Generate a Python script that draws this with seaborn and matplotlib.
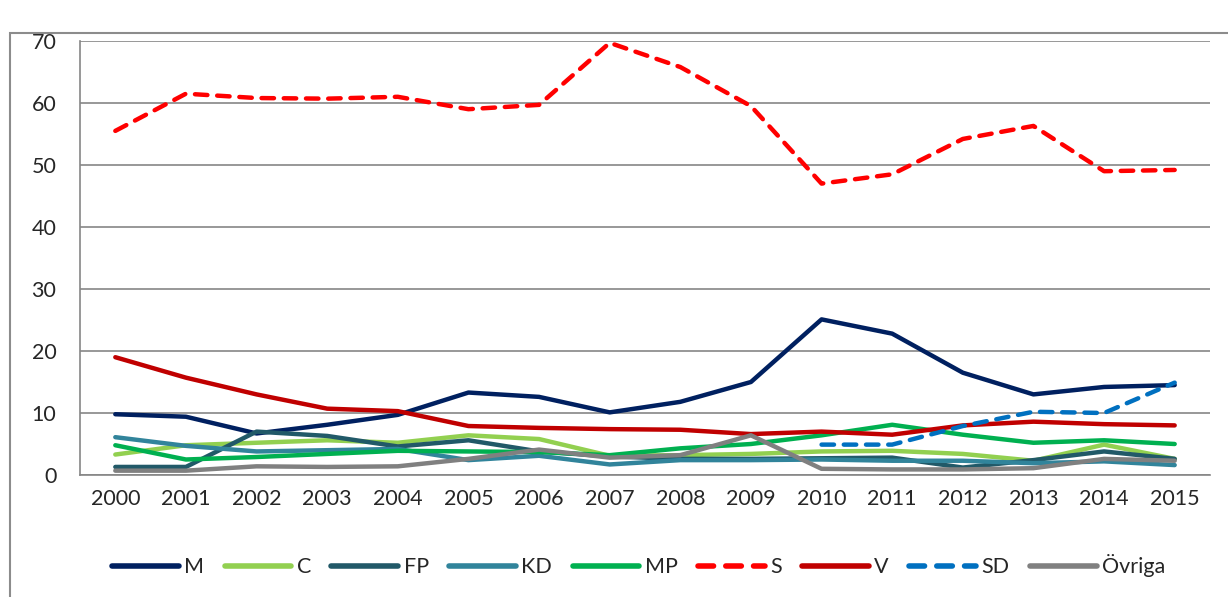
import pandas as pd
import matplotlib.pyplot as plt
import seaborn as sns
from matplotlib.patches import Rectangle

years = list(range(2000, 2016))
parties = ['M', 'C', 'FP', 'KD', 'MP', 'S', 'V', 'SD', 'Övriga']

m_vals = [9.8, 9.4, 6.7, 8.1, 9.7, 13.3, 12.6, 10.1, 11.8, 15.0, 25.1, 22.8, 16.5, 13.0, 14.2, 14.5]
c_vals = [3.3, 4.8, 5.2, 5.6, 5.2, 6.4, 5.8, 3.1, 3.2, 3.4, 3.8, 3.9, 3.4, 2.3, 4.9, 2.6]
fp_vals = [1.3, 1.3, 7.0, 6.3, 4.6, 5.6, 3.8, 3.0, 2.6, 2.6, 2.7, 2.8, 1.2, 2.4, 3.8, 2.6]
kd_vals = [6.1, 4.7, 3.8, 4.0, 4.2, 2.4, 3.1, 1.7, 2.4, 2.4, 2.5, 2.3, 2.3, 1.9, 2.2, 1.6]
mp_vals = [4.8, 2.5, 2.9, 3.4, 3.9, 3.8, 3.7, 3.2, 4.3, 5.0, 6.4, 8.1, 6.5, 5.2, 5.6, 5.0]
s_vals = [55.5, 61.5, 60.8, 60.7, 61.0, 59.0, 59.7, 69.7, 65.8, 59.5, 47.0, 48.5, 54.2, 56.3, 49.0, 49.2]
v_vals = [19.0, 15.7, 13.0, 10.7, 10.3, 7.9, 7.6, 7.4, 7.3, 6.6, 7.0, 6.5, 8.0, 8.6, 8.2, 8.0]
sd_vals = [None] * 10 + [4.9, 4.9, 7.9, 10.2, 10.0, 14.9]
ovr_vals = [0.7, 0.7, 1.4, 1.3, 1.4, 2.6, 4.1, 2.8, 3.2, 6.4, 1.0, 0.9, 0.9, 1.1, 2.6, 2.3]

colors = ['#002060', '#92D050', '#215968', '#31849B', '#00B050',
          '#FF0000', '#C00000', '#0070C0', '#808080']

series = [m_vals, c_vals, fp_vals, kd_vals, mp_vals, s_vals, v_vals, sd_vals, ovr_vals]
df = pd.concat([pd.DataFrame({'year': years, 'value': vals, 'party': p})
                for p, vals in zip(parties, series)], ignore_index=True)
df['value'] = df['value'].astype(float)

sns.set_style('white')
plt.rcParams['font.family'] = ['Lato', 'DejaVu Sans']

fig = plt.figure(figsize=(12.28, 5.97), dpi=100)
ax = fig.add_axes([80 / 1228, 122 / 597, 1130 / 1228, 434 / 597])

dashes = {p: '' for p in parties}
dashes['S'] = (2.8, 2.2)
dashes['SD'] = (2.8, 2.2)

sns.lineplot(data=df, x='year', y='value', hue='party', style='party',
             hue_order=parties, style_order=parties, palette=colors,
             dashes=dashes, linewidth=3.2, ax=ax, legend='full')

for line in ax.get_lines():
    line.set_dash_capstyle('round')
    line.set_solid_capstyle('round')

ax.set_xlim(1999.5, 2015.5)
ax.set_ylim(0, 70)
ax.set_xticks(years)
ax.set_xticklabels([str(y) for y in years], fontsize=15.5)
ax.set_xticks([y + 0.5 for y in range(1999, 2016)], minor=True)
ax.set_yticks(range(0, 71, 10))
ax.set_yticklabels([str(v) for v in range(0, 71, 10)], fontsize=15.5)
ax.tick_params(axis='x', which='major', length=0, pad=10)
ax.tick_params(axis='x', which='minor', length=7, width=1.2, color='#868686')
ax.tick_params(axis='y', length=6, width=1.2, color='#868686', pad=11)
ax.yaxis.grid(True, color='#868686', linewidth=1.2)
ax.set_axisbelow(True)
for side in ['top', 'right']:
    ax.spines[side].set_visible(False)
for side in ['left', 'bottom']:
    ax.spines[side].set_color('#868686')
    ax.spines[side].set_linewidth(1.2)
ax.set_xlabel('')
ax.set_ylabel('')

handles, labels = ax.get_legend_handles_labels()
ax.get_legend().remove()
leg = fig.legend(handles, labels, loc='center', bbox_to_anchor=(0.52, 0.052),
                 ncol=9, frameon=False, fontsize=15.5, handlelength=3.1,
                 columnspacing=0.95, handletextpad=0.25)
for h in leg.legend_handles:
    h.set_linewidth(4)

# outer chart border
fig.patches.append(Rectangle((10 / 1228, -0.1), 1.2, (564 / 597) + 0.1,
                             transform=fig.transFigure, fill=False,
                             edgecolor='#8c8c8c', linewidth=1.5))

fig.savefig('out.png', dpi=100)
